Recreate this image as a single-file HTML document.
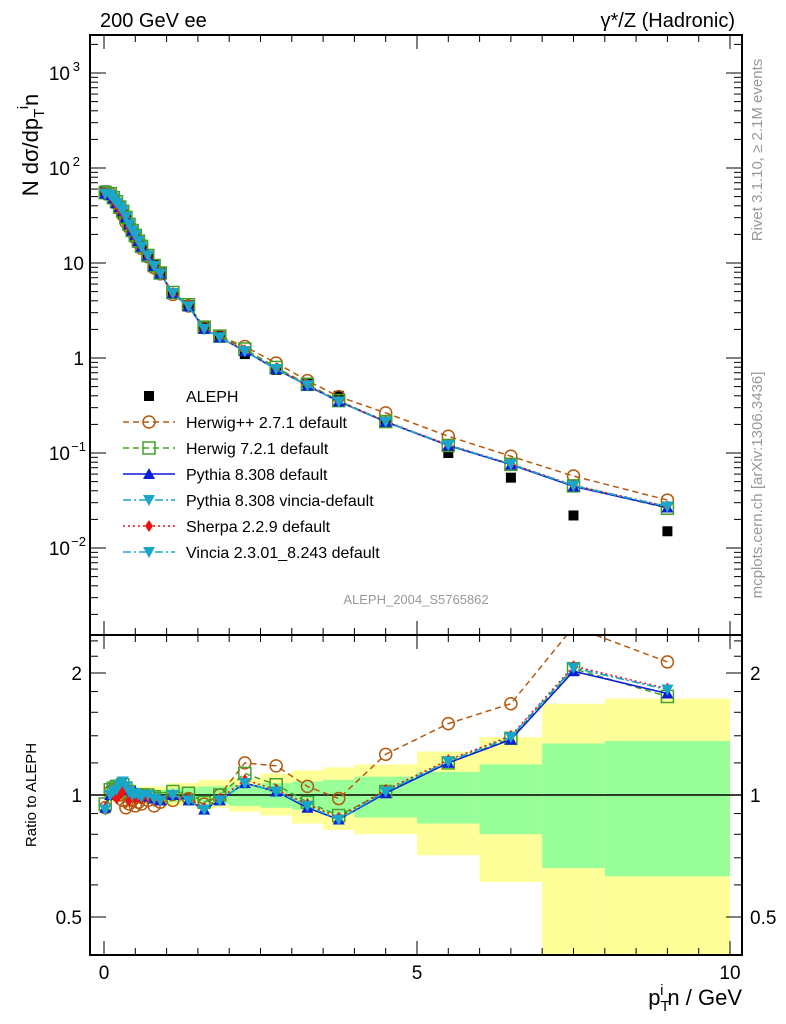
<!DOCTYPE html>
<html><head><meta charset="utf-8"><style>
body{margin:0;background:#fff}
svg{display:block;font-family:"Liberation Sans",sans-serif}
</style></head><body>
<svg id="c" width="786" height="1024" viewBox="0 0 786 1024">
<defs>
<clipPath id="cm"><rect x="90" y="35" width="652" height="600"/></clipPath>
<clipPath id="cr"><rect x="90" y="635" width="652" height="320"/></clipPath>
</defs>
<g id="bands" clip-path="url(#cr)"></g>
<g id="main" clip-path="url(#cm)"></g>
<line x1="90" y1="795" x2="742" y2="795" stroke="#000" stroke-width="1.5"/>
<g id="ratio" clip-path="url(#cr)"></g>
<rect x="90" y="35" width="652" height="600" fill="none" stroke="#000" stroke-width="2"/>
<rect x="90" y="635" width="652" height="320" fill="none" stroke="#000" stroke-width="2"/>
<g id="axes"></g>
<text x="100" y="27" font-size="20">200 GeV ee</text>
<text x="735" y="27" font-size="20" text-anchor="end">γ*/Z (Hadronic)</text>
<text transform="translate(38,145) rotate(-90)" font-size="22" text-anchor="middle">N dσ/dp<tspan font-size="15" dy="6">T</tspan><tspan font-size="15" dy="-16">i</tspan><tspan dy="10">n</tspan></text>
<text transform="translate(36,795) rotate(-90)" font-size="15" text-anchor="middle">Ratio to ALEPH</text>
<text x="742" y="1005" font-size="22" text-anchor="end">p<tspan font-size="15" dy="6">T</tspan><tspan font-size="15" dy="-16" dx="-9">i</tspan><tspan dy="10" dx="4">n / GeV</tspan></text>
<text transform="translate(762,150) rotate(-90)" font-size="15" fill="#999" text-anchor="middle">Rivet 3.1.10, ≥ 2.1M events</text>
<text transform="translate(762,485) rotate(-90)" font-size="15" fill="#999" text-anchor="middle">mcplots.cern.ch [arXiv:1306.3436]</text>
<text x="416" y="604" font-size="13" fill="#999" text-anchor="middle">ALEPH_2004_S5765862</text>
<g id="legend"></g>
</svg>
<script>
const xs=[0.02,0.1,0.15,0.2,0.25,0.3,0.35,0.4,0.45,0.5,0.55,0.6,0.7,0.8,0.9,1.1,1.35,1.6,1.85,2.25,2.75,3.25,3.75,4.5,5.5,6.5,7.5,9.0];
const aleph=[58,52,47,42,37,33,29,25,22,19.5,17,15,12,9.5,8,4.8,3.6,2.2,1.7,1.1,0.75,0.55,0.4,0.21,0.1,0.055,0.022,0.015];
const rHerwigpp=[0.93,1.02,1.03,1.02,1.0,0.97,0.93,0.95,0.97,0.94,0.96,0.95,0.97,0.94,0.96,0.97,0.98,0.95,1.0,1.2,1.18,1.05,0.98,1.26,1.5,1.68,2.6,2.13];
const rHerwig7=[0.95,1.03,1.04,1.05,1.05,1.06,1.04,1.02,1.0,1.0,1.0,1.0,1.0,0.99,0.98,1.02,1.01,0.96,1.0,1.13,1.06,0.96,0.89,1.02,1.2,1.38,2.05,1.75];
const rPythia=[0.93,1.0,1.02,1.02,1.05,1.07,1.05,1.03,1.0,1.02,1.0,0.99,1.0,0.98,0.97,1.0,0.97,0.92,0.97,1.07,1.02,0.93,0.87,1.01,1.2,1.37,2.02,1.78];
const rPythiaV=[0.92,1.0,1.02,1.03,1.06,1.08,1.05,1.02,1.0,1.01,1.0,0.99,1.0,0.98,0.97,1.0,0.97,0.92,0.97,1.07,1.02,0.94,0.87,1.02,1.21,1.39,2.06,1.82];
const rSherpa=[0.93,1.0,1.0,0.98,1.0,1.02,1.05,0.97,1.0,0.98,0.99,0.98,0.99,0.98,0.97,1.0,0.98,0.93,0.98,1.09,1.03,0.95,0.88,1.03,1.22,1.4,2.08,1.83];
const rVincia=[0.92,1.0,1.02,1.03,1.06,1.08,1.05,1.02,1.0,1.01,1.0,0.99,1.0,0.98,0.97,1.0,0.97,0.92,0.97,1.07,1.02,0.94,0.87,1.02,1.21,1.39,2.06,1.82];
const binEdges=[0,0.5,1,1.5,2,2.5,3,3.5,4,5,6,7,8,10];
const yellowHi=[1.04,1.05,1.07,1.09,1.1,1.13,1.15,1.17,1.19,1.28,1.39,1.68,1.73];
const yellowLo=[0.96,0.95,0.94,0.93,0.91,0.89,0.85,0.82,0.80,0.71,0.61,0.3,0.3];
const greenHi=[1.02,1.03,1.04,1.05,1.06,1.07,1.08,1.09,1.11,1.14,1.19,1.34,1.36];
const greenLo=[0.98,0.97,0.96,0.95,0.94,0.93,0.92,0.90,0.88,0.85,0.80,0.66,0.63];
const xTicks=[0,5,10];

const NS="http://www.w3.org/2000/svg";
const X=v=>104+62.6*v, Y=v=>358-95*Math.log10(v), R=v=>795-122*Math.log2(v);
function mk(p,t,a){const e=document.createElementNS(NS,t);for(const k in a)e.setAttribute(k,a[k]);p.appendChild(e);return e;}
const main=document.getElementById('main'),ratio=document.getElementById('ratio'),bands=document.getElementById('bands'),axes=document.getElementById('axes'),leg=document.getElementById('legend');

for(let i=0;i<yellowHi.length;i++){
 const x0=X(binEdges[i]),x1=X(binEdges[i+1]);
 let r=mk(bands,'rect',{x:x0,y:R(yellowHi[i]),width:x1-x0,height:R(yellowLo[i])-R(yellowHi[i]),fill:'#ffff99'});
 
 
 r=mk(bands,'rect',{x:x0,y:R(greenHi[i]),width:x1-x0,height:R(greenLo[i])-R(greenHi[i]),fill:'#99ff99'});
 
 
}

function marker(g,type,cx,cy,col){
 let e;
 if(type==='circle')e=mk(g,'circle',{cx,cy,r:6,fill:'none',stroke:col,'stroke-width':1.5});
 else if(type==='osq')e=mk(g,'rect',{x:cx-6,y:cy-6,width:12,height:12,fill:'none',stroke:col,'stroke-width':1.5});
 else if(type==='sq')e=mk(g,'rect',{x:cx-5,y:cy-5,width:10,height:10,fill:col});
 else if(type==='up')e=mk(g,'polygon',{points:`${cx},${cy-6} ${cx-6},${cy+5} ${cx+6},${cy+5}`,fill:col});
 else if(type==='down')e=mk(g,'polygon',{points:`${cx},${cy+6} ${cx-6},${cy-5} ${cx+6},${cy-5}`,fill:col});
 else if(type==='dia')e=mk(g,'polygon',{points:`${cx},${cy-6} ${cx-4},${cy} ${cx},${cy+6} ${cx+4},${cy}`,fill:col});
 return e;
}
xs.forEach((x,i)=>{const m=marker(main,'sq',X(x),Y(aleph[i]),'#000');
 
 });
const series=[
 {name:'herwigpp',r:rHerwigpp,col:'#b35a10',m:'circle',dash:'6,4',label:'Herwig++ 2.7.1 default'},
 {name:'herwig7',r:rHerwig7,col:'#44a02a',m:'osq',dash:'6,4',label:'Herwig 7.2.1 default'},
 {name:'pythia',r:rPythia,col:'#0a1ed8',m:'up',dash:'',label:'Pythia 8.308 default'},
 {name:'pythia-vincia',r:rPythiaV,col:'#1aa6c8',m:'down',dash:'8,3,2,3',label:'Pythia 8.308 vincia-default'},
 {name:'sherpa',r:rSherpa,col:'#ee1111',m:'dia',dash:'2,3',label:'Sherpa 2.2.9 default'},
 {name:'vincia',r:rVincia,col:'#1aa6c8',m:'down',dash:'8,3,2,3',label:'Vincia 2.3.01_8.243 default'}
];
series.forEach(s=>{
 const mp=xs.map((x,i)=>[X(x),Y(aleph[i]*s.r[i])]);
 const rp=xs.map((x,i)=>[X(x),R(s.r[i])]);
 [[main,mp],[ratio,rp]].forEach(([g,pts])=>{
  const l=mk(g,'polyline',{points:pts.map(p=>p.join(',')).join(' '),fill:'none',stroke:s.col,'stroke-width':1.5,'stroke-dasharray':s.dash});
  
  
  pts.forEach(p=>{const m=marker(g,s.m,p[0],p[1],s.col);
   
   });
 });
});

for(let v=0;v<=10.01;v+=0.5){
 const big=Math.abs(v%5)<0.01, len=big?14:7;
 [[955,-1],[635,1],[635,-1],[35,1]].forEach(([y,d])=>mk(axes,'line',{x1:X(v),x2:X(v),y1:y,y2:y+d*len,stroke:'#000','stroke-width':1}));
}
xTicks.forEach(v=>{const t=mk(axes,'text',{x:X(v),y:979,'font-size':19,'text-anchor':'middle'});t.textContent=v;
 
 });
for(let e=-3;e<=3;e++){for(let k=1;k<10;k++){const v=k*Math.pow(10,e),y=Y(v);if(y<35||y>635)continue;
 const len=k===1?16:8;
 mk(axes,'line',{x1:90,x2:90+len,y1:y,y2:y,stroke:'#000'});mk(axes,'line',{x1:742,x2:742-len,y1:y,y2:y,stroke:'#000'});}}
[[-2,'10','−2'],[-1,'10','−1'],[0,'1',''],[1,'10',''],[2,'10','2'],[3,'10','3']].forEach(([e,b,s])=>{
 const t=mk(axes,'text',{x:s?70:84,y:Y(Math.pow(10,e))+7,'font-size':19,'text-anchor':'end'});
 t.textContent=b;
 
 
 if(s){const u=mk(axes,'text',{x:s.length>1?86:80,y:Y(Math.pow(10,e))-2,'font-size':13,'text-anchor':'end'});u.textContent=s;}
});
[0.4,0.5,0.6,0.7,0.8,0.9,1,1.2,1.4,1.6,1.8,2,2.2,2.4].forEach(v=>{const y=R(v);if(y<635||y>955)return;
 const len=(v===0.5||v===1||v===2)?16:8;
 mk(axes,'line',{x1:90,x2:90+len,y1:y,y2:y,stroke:'#000'});mk(axes,'line',{x1:742,x2:742-len,y1:y,y2:y,stroke:'#000'});});
[[0.5,'0.5'],[1,'1'],[2,'2']].forEach(([v,s])=>{
 let t=mk(axes,'text',{x:82,y:R(v)+7,'font-size':19,'text-anchor':'end'});t.textContent=s;
 
 
 t=mk(axes,'text',{x:750,y:R(v)+7,'font-size':19});t.textContent=s;
 
 
});

const L=[{m:'sq',col:'#000',label:'ALEPH',dash:null}].concat(series);
L.forEach((s,i)=>{const y=396+i*26;
 if(s.dash!==null)mk(leg,'line',{x1:123,x2:175,y1:y,y2:y,stroke:s.col,'stroke-width':1.5,'stroke-dasharray':s.dash});
 const m=marker(leg,s.m,149,y,s.col);
 
 
 const t=mk(leg,'text',{x:186,y:y+6,'font-size':16});t.textContent=s.label;
 
 
});
</script>
</body></html>
